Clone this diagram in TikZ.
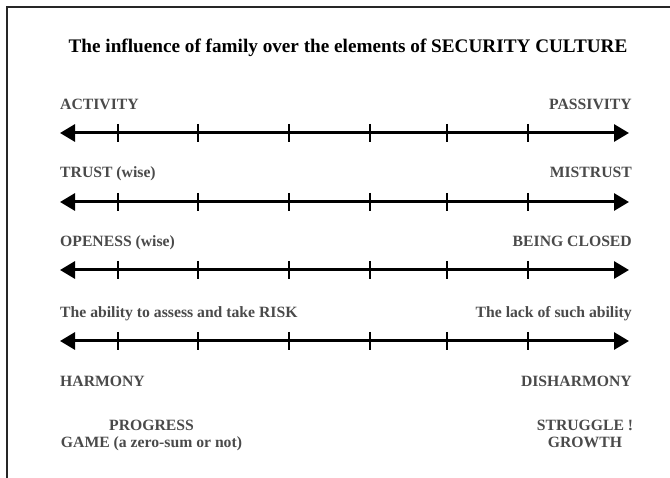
\documentclass[tikz,border=0pt]{standalone}
\usepackage{fontspec}
\setmainfont{Liberation Serif}
\usetikzlibrary{arrows.meta}
\definecolor{lbl}{HTML}{4A4A4A}
\begin{document}
\begin{tikzpicture}[x=1pt,y=-1pt,
  lab/.style={inner sep=0pt,text=lbl,font=\fontsize{15.7}{17}\selectfont\bfseries},
  ttl/.style={inner sep=0pt,text=black,font=\fontsize{19.2}{21}\selectfont\bfseries},
  axis/.style={line width=3pt,{Triangle[length=15pt,width=17pt]}-{Triangle[length=15pt,width=17pt]}},
  tick/.style={line width=1.6pt}]
\useasboundingbox (0,0) rectangle (670,478);
\draw[line width=1.6pt,color=black!85] (7,478) -- (7,7) -- (670,7);
\node[ttl,anchor=base] (title) at (348,53) {The influence of family over the elements of SECURITY CULTURE};
% labels
\node[lab,anchor=base west] (l1) at (60,110) {ACTIVITY};
\node[lab,anchor=base east] (r1) at (632,110) {PASSIVITY};
\node[lab,anchor=base west] (l2) at (60,178) {TRUST (wise)};
\node[lab,anchor=base east] (r2) at (632,178) {MISTRUST};
\node[lab,anchor=base west] (l3) at (60,247) {OPENESS (wise)};
\node[lab,anchor=base east] (r3) at (632,247) {BEING CLOSED};
\node[lab,anchor=base west] (l4) at (60,318) {The ability to assess and take RISK};
\node[lab,anchor=base east] (r4) at (632,318) {The lack of such ability};
\node[lab,anchor=base west] (l5) at (60,387) {HARMONY};
\node[lab,anchor=base east] (r5) at (632,387) {DISHARMONY};
\node[lab,align=center,anchor=north] (l6) at (151.5,420) {PROGRESS\\GAME (a zero-sum or not)};
\node[lab,align=center,anchor=north] (r6) at (585,420) {STRUGGLE !\\GROWTH};
% axes
\foreach \i/\y in {1/133,2/202,3/270,4/341}{
  \coordinate (a\i l) at (60,\y);
  \coordinate (a\i r) at (629,\y);
  \draw[axis] (a\i l) -- (a\i r);
  \foreach \x in {118,198,289,370,447,528}{
    \draw[tick] (\x,\y-9) -- (\x,\y+9);
  }
}
\end{tikzpicture}
\end{document}
